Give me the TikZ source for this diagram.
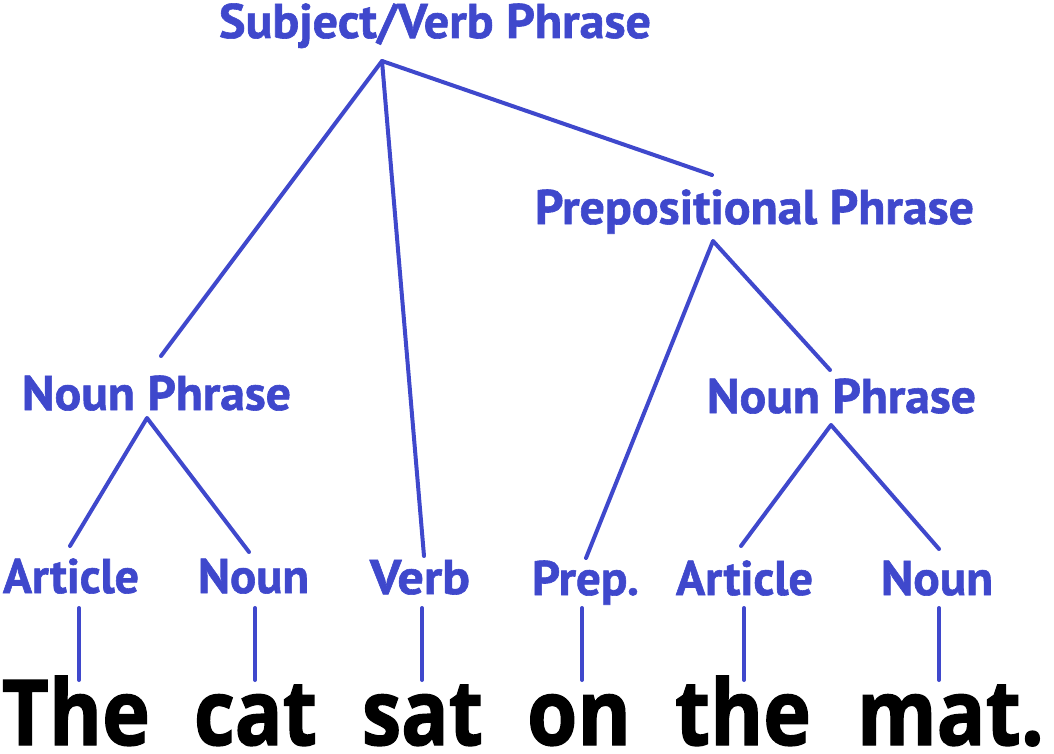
\documentclass[tikz,border=0pt]{standalone}
\usepackage{fontspec}
\newfontfamily\bluefont{PT Sans}[BoldFeatures={FakeBold=1.2}]
\newfontfamily\blackfont{Open Sans}[BoldFeatures={FakeBold=1.6}]
\definecolor{blue1}{RGB}{63,72,204}
\newsavebox\fitbox
\newcommand\fitw[2]{\sbox\fitbox{#2}\dimen0=\wd\fitbox\pgfmathsetmacro\fitsc{#1/\the\dimen0}\scalebox{\fitsc}[1]{\usebox\fitbox}}
\tikzset{
  lbl/.style={text=blue1, inner sep=0pt, anchor=base, font=\bluefont\bfseries\fontsize{48.6}{50}\selectfont},
  word/.style={text=black, inner sep=0pt, anchor=base, font=\blackfont\bfseries\fontsize{91}{95}\selectfont},
  edge/.style={draw=blue1, line width=4pt, line cap=round, line join=round}
}
\begin{document}
\begin{tikzpicture}[x=1pt,y=-1pt]
\useasboundingbox (0,0) rectangle (1054,754);
% labels
\node[lbl] (svp) at (435,38) {\fitw{432}{Subject/Verb Phrase}};
\node[lbl] (pp) at (754.5,224) {\fitw{439}{Prepositional Phrase}};
\node[lbl] (npl) at (156.5,410) {\fitw{269}{Noun Phrase}};
\node[lbl] (npr) at (841.5,413) {\fitw{269}{Noun Phrase}};
\node[lbl] (artl) at (71,593) {\fitw{136}{Article}};
\node[lbl] (nounl) at (253.5,593) {\fitw{111}{Noun}};
\node[lbl] (verb) at (420,594) {\fitw{100}{Verb}};
\node[lbl] (prep) at (585.5,595) {\fitw{107}{Prep.}};
\node[lbl] (artr) at (744.5,595) {\fitw{137}{Article}};
\node[lbl] (nounr) at (937,595) {\fitw{112}{Noun}};
% words
\node[word] (w1) at (76,745) {\fitw{148}{The}};
\node[word] (w2) at (255.5,745) {\fitw{123}{cat}};
\node[word] (w3) at (422.5,745) {\fitw{121}{sat}};
\node[word] (w4) at (579,745) {\fitw{104}{on}};
\node[word] (w5) at (743,745) {\fitw{136}{the}};
\node[word] (w6) at (950.5,745) {\fitw{187}{mat.}};
% connector end points
\coordinate (svpB) at (382,61);
\coordinate (nplT) at (161,356);
\coordinate (verbT) at (424,556);
\coordinate (ppT) at (712,175);
\coordinate (ppB) at (713,241);
\coordinate (prepT) at (586,558);
\coordinate (nprT) at (830,370);
\coordinate (nplB) at (147,418);
\coordinate (artlT) at (70,546);
\coordinate (nounlT) at (249,552);
\coordinate (nprB) at (831,425);
\coordinate (artrT) at (741,546);
\coordinate (nounrT) at (939,549);
\draw[edge] (nplT) -- (svpB) -- (ppT);
\draw[edge] (svpB) -- (verbT);
\draw[edge] (prepT) -- (ppB) -- (nprT);
\draw[edge] (artlT) -- (nplB) -- (nounlT);
\draw[edge] (artrT) -- (nprB) -- (nounrT);
% vertical ties
\foreach \n/\x in {a/79,b/255,c/422,d/582,e/744,f/939}{
  \coordinate (t\n) at (\x,608);
  \coordinate (u\n) at (\x,680);
  \draw[edge] (t\n) -- (u\n);
}
\end{tikzpicture}
\end{document}
